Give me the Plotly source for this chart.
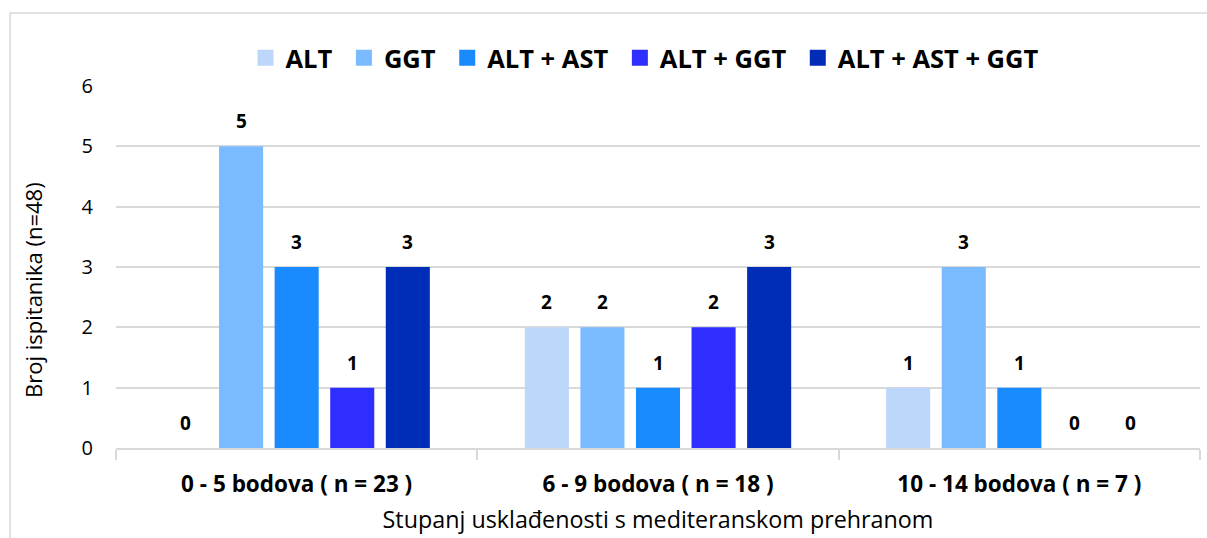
import plotly.graph_objects as go

categories = ["0 - 5 bodova ( n = 23 )", "6 - 9 bodova ( n = 18 )", "10 - 14 bodova ( n = 7 )"]
series_names = ["ALT", "GGT", "ALT + AST", "ALT + GGT", "ALT + AST + GGT"]
alt = [0, 2, 1]
ggt = [5, 2, 3]
alt_ast = [3, 1, 1]
alt_ggt = [1, 2, 0]
alt_ast_ggt = [3, 3, 0]
series_values = [alt, ggt, alt_ast, alt_ggt, alt_ast_ggt]
colors = ["#BDD7FA", "#7ABAFF", "#1A8AFF", "#2E2EFF", "#002DB8"]
y_ticks = [0, 1, 2, 3, 4, 5, 6]
x_title = "Stupanj usklađenosti s mediteranskom prehranom"
y_title = "Broj ispitanika (n=48)"

FONT = "Open Sans"
bargap = 0.231
bargroupgap = 0.207

fig = go.Figure()
for name, vals, col in zip(series_names, series_values, colors):
    fig.add_trace(go.Bar(name=name, x=categories, y=vals, showlegend=False,
                         marker=dict(color=col, line=dict(width=0))))
# legend entries with larger square swatches
for k, (name, col) in enumerate(zip(series_names, colors)):
    pad = "\u00a0" if k < len(series_names) - 1 else ""
    fig.add_trace(go.Scatter(name=f"<b>{name}</b>{pad}", x=[None], y=[None], mode="markers",
                             marker=dict(symbol="square", size=16, color=col), showlegend=True))

slot = (1 - bargap) / len(series_names)
annotations = []
for j, vals in enumerate(series_values):
    for i, v in enumerate(vals):
        annotations.append(dict(
            x=i + (j - (len(series_names) - 1) / 2) * slot, y=v, xref="x", yref="y",
            text=f"<b>{v}</b>", showarrow=False, yanchor="middle", yshift=25,
            font=dict(family=FONT, size=19, color="#000000")))
annotations.append(dict(
    x=-0.0766, y=0.4365, xref="paper", yref="paper", text=y_title, textangle=-90,
    showarrow=False, xanchor="center", yanchor="middle",
    font=dict(family=FONT, size=22, color="#000000")))

fig.update_layout(
    width=1207, height=538,
    margin=dict(l=116, r=7, t=86, b=90),
    paper_bgcolor="white", plot_bgcolor="white",
    barmode="group", bargap=bargap, bargroupgap=bargroupgap,
    font=dict(family=FONT, color="#000000"),
    showlegend=True,
    legend=dict(orientation="h", x=0.488, xanchor="center", y=1.077, yanchor="middle",
                font=dict(family=FONT, size=25.5, color="#000000"),
                itemwidth=30, traceorder="normal", bgcolor="rgba(0,0,0,0)"),
    annotations=annotations,
    shapes=[dict(type="rect", xref="paper", yref="paper", x0=-0.0978, x1=1.1, y0=-0.5, y1=1.2017,
                 line=dict(color="#D9D9D9", width=1.5), fillcolor="rgba(0,0,0,0)", layer="below")],
)
fig.update_xaxes(
    type="category", showline=True, linecolor="#D9D9D9", linewidth=1.5,
    ticks="outside", tickson="boundaries", ticklen=10, tickcolor="#D9D9D9", tickwidth=1.5,
    ticklabelstandoff=15,
    tickfont=dict(family=FONT, size=22.5, color="#000000"),
    ticktext=[f"<b>{c}</b>" for c in categories], tickvals=categories,
    title=dict(text=x_title, font=dict(family=FONT, size=23.3, color="#000000"), standoff=14),
    showgrid=False, automargin=False,
)
fig.update_yaxes(
    range=[0, 6], tickvals=y_ticks, showgrid=True, gridcolor="#D9D9D9", gridwidth=1.5,
    zeroline=False, showline=False, ticks="", ticklabelstandoff=22,
    tickfont=dict(family=FONT, size=20, color="#000000"),
    automargin=False,
)
fig.write_html("out.html", config={"displayModeBar": False},
               post_script="document.body.style.margin='0';")
